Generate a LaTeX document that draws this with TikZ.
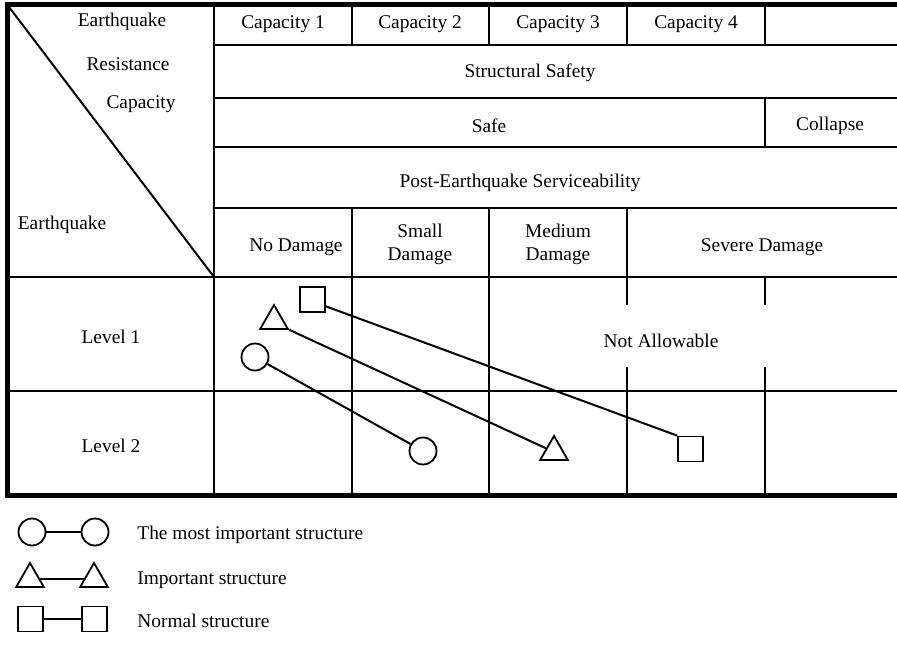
\documentclass[tikz,border=0pt]{standalone}
\usepackage{fontspec}
\setmainfont{Liberation Serif}
\usetikzlibrary{positioning,shapes.geometric}
\tikzstyle{ring}=[draw, circle, line width=0.9pt, minimum size=13.5pt, inner sep=0pt]
\tikzstyle{tri}=[draw, regular polygon, regular polygon sides=3, line width=0.9pt, minimum size=16pt, inner sep=0pt]
\tikzstyle{sqr}=[draw, rectangle, line width=0.9pt, minimum size=12.5pt, inner sep=0pt]
\tikzstyle{lbl}=[font=\fontsize{9.7}{11.5}\selectfont, inner sep=1pt, align=center]
\tikzstyle{rule}=[line width=1pt]

\begin{document}
\begin{tikzpicture}[x=0.5pt,y=-0.5pt]
	\useasboundingbox (0,0) rectangle (897,646);
	% grid of the table
	\draw[line width=2.5pt] (897,5) -- (7.5,5) -- (7.5,495) -- (897,495);
	\foreach \y in {45,98,147,208} \draw[rule] (214,\y) -- (897,\y);
	\foreach \y in {277,391} \draw[rule] (7.5,\y) -- (897,\y);
	\draw[rule] (214,5) -- (214,495);
	\foreach \x in {352,489} {
		\draw[rule] (\x,5) -- (\x,45);
		\draw[rule] (\x,208) -- (\x,495);
	}
	\draw[rule] (627,5) -- (627,45) (627,208) -- (627,305) (627,367) -- (627,495);
	\draw[rule] (765,5) -- (765,45) (765,98) -- (765,147) (765,277) -- (765,305) (765,367) -- (765,495);
	\draw[rule] (7.5,5) -- (214,277);

	% header
	\node[lbl] (eqa) at (122,22) {Earthquake};
	\node[lbl] (res) at (128,64) {Resistance};
	\node[lbl] (cap) at (141,104) {Capacity};
	\node[lbl] (eqb) at (62,225) {Earthquake};
	\node[lbl] (cap1) at (283,24) {Capacity 1};
	\node[lbl] (cap2) at (420,24) {Capacity 2};
	\node[lbl] (cap3) at (558,24) {Capacity 3};
	\node[lbl] (cap4) at (696,24) {Capacity 4};
	\node[lbl] (safety) at (530,73) {Structural Safety};
	\node[lbl] (safe) at (489,126) {Safe};
	\node[lbl] (coll) at (830,126) {Collapse};
	\node[lbl] (serv) at (520,183) {Post-Earthquake Serviceability};
	\node[lbl] (dmg0) at (296,247) {No Damage};
	\node[lbl] (dmg1) at (420,244) {Small\\Damage};
	\node[lbl] (dmg2) at (558,244) {Medium\\Damage};
	\node[lbl] (dmg3) at (762,247) {Severe Damage};
	\node[lbl] (lv1) at (111,337) {Level 1};
	\node[lbl] (lv2) at (111,446) {Level 2};
	\node[lbl] (notok) at (661,341) {Not Allowable};

	% structures
	\node[sqr] (s1) at (312.5,299.5) {};
	\node[tri] (t1) at (274,321) {};
	\node[ring] (c1) at (255,357) {};
	\node[ring] (c2) at (423,451) {};
	\node[tri] (t2) at (554,452) {};
	\node[sqr] (s2) at (690.5,449) {};
	\draw[rule] (c1) -- (c2);
	\draw[rule] (t1.corner 3) -- (t2);
	\draw[rule] (s1.-27) -- (s2.north west);

	% legend
	\node[ring] (lc1) at (32,532) {};
	\node[ring] (lc2) at (95,532) {};
	\node[tri] (lt1) at (30,579) {};
	\node[tri] (lt2) at (94,579) {};
	\node[sqr] (ls1) at (30.5,619) {};
	\node[sqr] (ls2) at (94.5,619) {};
	\draw[rule] (lc1) -- (lc2);
	\draw[rule] (lt1) -- (lt2);
	\draw[rule] (ls1) -- (ls2);
	\node[lbl, anchor=west] (key1) at (135,535) {The most important structure};
	\node[lbl, anchor=west] (key2) at (135,580) {Important structure};
	\node[lbl, anchor=west] (key3) at (135,621) {Normal structure};
\end{tikzpicture}
\end{document}
